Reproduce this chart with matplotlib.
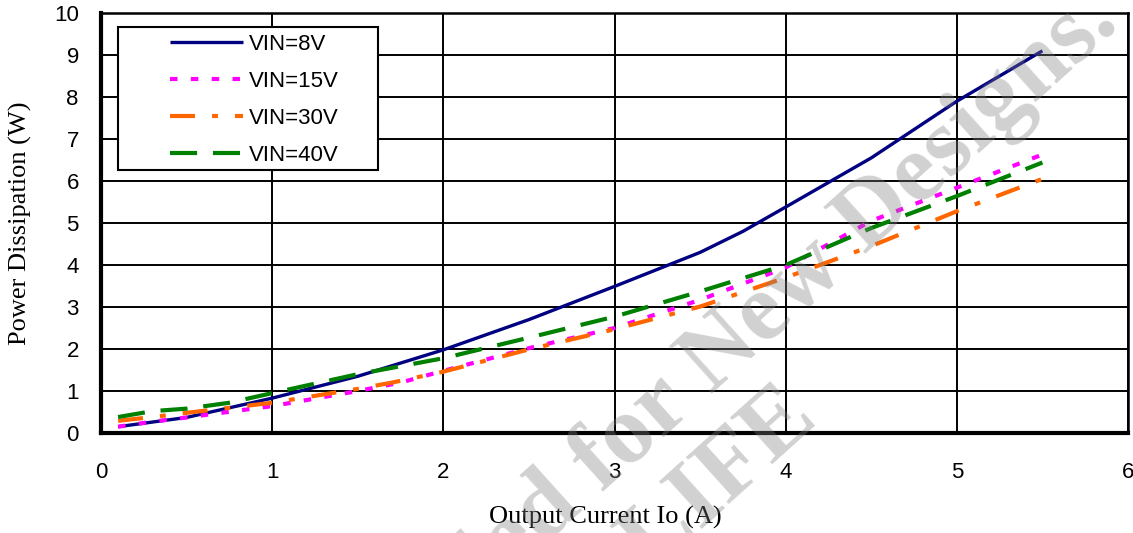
import matplotlib
matplotlib.use("Agg")
import matplotlib.pyplot as plt
from matplotlib.patches import Rectangle

# ---- data ----
x_8v = [0.1, 0.5, 1.0, 1.5, 2.0, 2.5, 3.0, 3.5, 3.75, 4.0, 4.5, 5.0, 5.5]
p_8v = [0.15, 0.37, 0.83, 1.35, 1.98, 2.70, 3.49, 4.30, 4.80, 5.38, 6.55, 7.90, 9.10]

x_15v = [0.1, 0.3, 0.5, 1.0, 1.5, 1.75, 2.0, 2.5, 3.0, 3.5, 4.0, 4.5, 5.0, 5.5]
p_15v = [0.15, 0.27, 0.37, 0.64, 1.00, 1.20, 1.48, 2.02, 2.50, 3.17, 3.94, 5.05, 5.84, 6.63]

x_30v = [0.1, 0.3, 0.5, 1.0, 1.5, 1.7, 2.0, 2.5, 3.0, 3.5, 4.0, 4.5, 5.0, 5.5]
p_30v = [0.29, 0.38, 0.48, 0.72, 1.05, 1.20, 1.46, 1.99, 2.47, 3.01, 3.70, 4.45, 5.28, 6.05]

x_40v = [0.1, 0.3, 0.5, 0.75, 1.0, 1.5, 2.0, 2.5, 3.0, 3.5, 4.0, 4.5, 5.0, 5.5]
p_40v = [0.38, 0.52, 0.58, 0.72, 0.95, 1.40, 1.78, 2.27, 2.77, 3.37, 4.00, 4.88, 5.64, 6.44]

labels = ["VIN=8V", "VIN=15V", "VIN=30V", "VIN=40V"]
x_ticks = [0, 1, 2, 3, 4, 5, 6]
y_ticks = [0, 1, 2, 3, 4, 5, 6, 7, 8, 9, 10]

SANS = ["Liberation Sans Narrow", "Liberation Sans", "DejaVu Sans"]

W, H = 1133, 533
fig = plt.figure(figsize=(W / 100, H / 100), dpi=100)
ax = fig.add_axes([101 / W, 1 - 433 / H, 1027 / W, 420 / H])

ax.plot(x_8v, p_8v, color="#000080", lw=2.4, solid_capstyle="butt", label=labels[0], zorder=3)
ax.plot(x_15v, p_15v, color="#ff00ff", lw=3.0, dashes=(1.8, 3.2), label=labels[1], zorder=3)
ax.plot(x_30v, p_30v, color="#ff6600", lw=3.0, dashes=(6, 4.1, 1.4, 4.1), label=labels[2], zorder=3)
ax.plot(x_40v, p_40v, color="#008000", lw=3.0, dashes=(6.5, 3.8), label=labels[3], zorder=3)

ax.set_xlim(0, 6)
ax.set_ylim(0, 10)
ax.set_xticks(x_ticks)
ax.set_yticks(y_ticks)
ax.grid(True, color="black", lw=1.4, zorder=1)
ax.set_axisbelow(True)
ax.tick_params(length=0, labelsize=16)
ax.tick_params(axis="x", pad=21)
ax.tick_params(axis="y", pad=16)
for lab in ax.get_xticklabels() + ax.get_yticklabels():
    lab.set_fontfamily(SANS)

for side in ["left", "bottom"]:
    ax.spines[side].set_linewidth(3.0)
for side in ["top", "right"]:
    ax.spines[side].set_linewidth(1.8)

ax.set_xlabel("Output Current Io (A)", fontsize=19, family="Liberation Serif")
ax.set_ylabel("Power Dissipation (W)", fontsize=19, family="Liberation Serif")
ax.xaxis.set_label_coords((605 - 101) / 1027, (433 - 517) / 420)
ax.xaxis.label.set_va("center")
ax.yaxis.set_label_coords((20 - 101) / 1027, 0.5)
ax.yaxis.label.set_va("center")

# legend frame
x0 = (118 - 101) / 1027
x1 = (378 - 101) / 1027
y1 = (433 - 27) / 420
y0 = (433 - 170) / 420
ax.add_patch(Rectangle((x0, y0), x1 - x0, y1 - y0, transform=ax.transAxes,
                       facecolor="white", edgecolor="black", lw=1.5, zorder=5))
leg = ax.legend(loc="upper left",
                bbox_to_anchor=((170 - 101) / 1027, (433 - 34) / 420),
                frameon=False, borderpad=0, borderaxespad=0,
                handlelength=3.3, handletextpad=0.25, labelspacing=0.72,
                prop={"family": SANS, "size": 16})
leg.set_zorder(6)

# watermark
fig.text(1105 / W, 1 - 8 / H, "Not Recommended for New Designs.",
         fontsize=70, family="Liberation Serif", weight="bold",
         color="#808080", alpha=0.36, rotation=42, ha="right", va="center",
         rotation_mode="anchor", zorder=10)
fig.text(805 / W, 1 - 405 / H, "END OF LIFE",
         fontsize=70, family="Liberation Serif", weight="bold",
         color="#808080", alpha=0.36, rotation=42, ha="right", va="center",
         rotation_mode="anchor", zorder=10)

fig.savefig("out.png", dpi=100)
